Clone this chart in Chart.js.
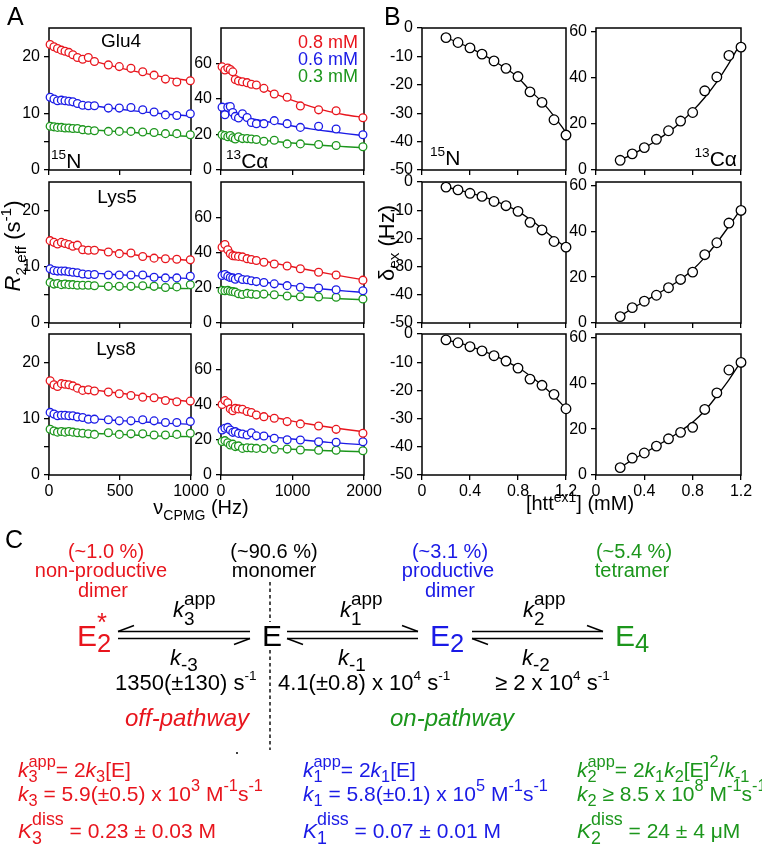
<!DOCTYPE html>
<html>
<head>
<meta charset="utf-8">
<script src="https://cdn.jsdelivr.net/npm/chart.js@4.4.1/dist/chart.umd.min.js"></script>
<style>
html, body { margin: 0; padding: 0; background: #fff; }
#fig { position: relative; width: 762px; height: 847px; overflow: hidden; background: #fff; }
#fig canvas { position: absolute; }
#txt { position: absolute; left: 0; top: 0; z-index: 2; }
</style>
</head>
<body>
<div id="fig"><svg id="txt" width="762" height="847" xmlns="http://www.w3.org/2000/svg"></svg></div>
<script>
// ---- panel A: CPMG frequencies (Hz)
const nuN = [8, 35, 60, 87, 113, 140, 168, 200, 237, 277, 320, 418, 495, 577, 660, 740, 820, 900, 995];
const nuC = [15, 55, 95, 130, 165, 200, 245, 300, 365, 425, 495, 600, 745, 925, 1110, 1365, 1610, 1985];
const fitNuN = [0, 200, 400, 600, 800, 1000];
const fitNuC = [0, 100, 250, 500, 750, 1000, 1250, 1500, 1750, 2000];

// R2,eff 15N (s-1), 0.8 / 0.6 / 0.3 mM
const glu4N_08 = [22.1, 21.7, 21.4, 21.1, 20.9, 20.7, 20.3, 19.8, 19.5, 19.8, 19.1, 18.5, 18.2, 17.9, 17.3, 16.7, 16.0, 15.5, 15.7];
const glu4N_06 = [12.8, 12.5, 12.2, 12.3, 12.2, 12.1, 12.0, 11.7, 11.4, 11.3, 11.3, 10.9, 10.9, 11.0, 10.6, 10.2, 9.7, 9.6, 9.9];
const glu4N_03 = [7.7, 7.6, 7.5, 7.5, 7.4, 7.4, 7.3, 7.3, 7.1, 7.0, 6.9, 6.8, 6.8, 6.8, 6.7, 6.6, 6.4, 6.4, 6.2];
const lys5N_08 = [14.6, 14.3, 14.0, 14.3, 14.1, 13.9, 13.6, 13.8, 13.0, 12.9, 12.9, 12.6, 12.3, 12.4, 11.8, 11.5, 11.4, 11.3, 11.2];
const lys5N_06 = [9.6, 9.3, 9.2, 9.2, 9.2, 9.1, 9.0, 8.9, 8.7, 8.6, 8.6, 8.5, 8.5, 8.5, 8.5, 8.1, 8.0, 8.0, 8.3];
const lys5N_03 = [7.2, 6.9, 7.0, 6.8, 6.9, 6.8, 6.8, 6.7, 6.7, 6.7, 6.6, 6.5, 6.5, 6.5, 6.6, 6.5, 6.3, 6.4, 6.8];
const lys8N_08 = [16.7, 16.0, 15.7, 16.2, 16.1, 16.0, 15.8, 15.4, 15.0, 15.1, 14.9, 14.7, 14.4, 14.1, 13.8, 13.7, 13.2, 13.0, 13.1];
const lys8N_06 = [11.1, 10.8, 10.5, 10.6, 10.6, 10.5, 10.5, 10.3, 10.2, 9.9, 9.9, 9.8, 9.6, 9.6, 9.8, 9.6, 9.3, 9.3, 9.5];
const lys8N_03 = [8.1, 7.8, 7.6, 7.7, 7.6, 7.7, 7.6, 7.5, 7.4, 7.3, 7.2, 7.5, 7.2, 7.3, 7.3, 7.1, 7.1, 7.2, 7.4];
// fitted curves 15N
const glu4N_08fit = [22.0, 20.1, 18.6, 17.4, 16.4, 15.7];
const glu4N_06fit = [12.6, 11.7, 11.0, 10.4, 9.9, 9.5];
const glu4N_03fit = [7.5, 7.2, 6.9, 6.6, 6.2, 5.9];
const lys5N_08fit = [14.5, 13.6, 12.8, 12.1, 11.5, 11.1];
const lys5N_06fit = [9.4, 9.0, 8.7, 8.4, 8.1, 7.9];
const lys5N_03fit = [7.0, 6.7, 6.5, 6.4, 6.2, 6.1];
const lys8N_08fit = [16.3, 15.5, 14.8, 14.2, 13.6, 13.0];
const lys8N_06fit = [10.8, 10.3, 9.8, 9.5, 9.2, 9.0];
const lys8N_03fit = [7.8, 7.5, 7.3, 7.1, 6.9, 6.8];

// R2,eff 13Calpha (s-1)
const glu4C_08 = [58.1, 56.3, 57.5, 56.6, 55.3, 51.0, 50.1, 49.7, 49.2, 48.3, 47.9, 46.0, 42.8, 41.0, 36.1, 33.9, 33.4, 29.4];
const glu4C_06 = [35.4, 31.1, 35.4, 35.8, 32.4, 30.2, 29.3, 31.7, 29.6, 26.8, 26.1, 26.1, 27.8, 26.1, 24.0, 24.6, 23.1, 19.9];
const glu4C_03 = [19.9, 19.4, 18.7, 19.4, 18.1, 17.5, 18.7, 17.7, 17.7, 17.5, 17.2, 16.2, 16.8, 14.7, 14.7, 14.4, 13.8, 13.1];
const lys5C_08 = [43.0, 44.5, 41.6, 39.3, 38.2, 38.0, 37.8, 37.5, 36.5, 36.0, 35.5, 34.5, 33.5, 32.3, 30.8, 28.8, 27.2, 24.3];
const lys5C_06 = [27.0, 27.5, 26.5, 25.8, 25.6, 24.8, 25.8, 24.7, 24.5, 24.0, 23.5, 23.0, 22.2, 21.2, 20.3, 19.9, 18.9, 18.3];
const lys5C_03 = [18.5, 18.3, 18.5, 18.0, 17.8, 17.5, 16.6, 16.2, 16.8, 16.4, 16.2, 16.4, 16.0, 15.3, 14.9, 14.8, 14.6, 13.6];
const lys8C_08 = [40.0, 42.2, 41.0, 37.5, 36.5, 37.8, 37.5, 37.3, 36.0, 35.5, 34.0, 33.1, 32.2, 30.3, 29.0, 27.8, 25.9, 23.7];
const lys8C_06 = [25.5, 26.5, 27.0, 25.5, 24.2, 24.6, 23.6, 23.3, 22.7, 24.0, 22.2, 22.1, 20.8, 20.0, 19.9, 18.9, 18.6, 18.9];
const lys8C_03 = [19.0, 19.5, 18.3, 17.0, 17.5, 16.1, 16.5, 15.1, 15.5, 15.3, 15.1, 15.0, 14.6, 14.7, 14.2, 14.0, 14.0, 13.8];
// fitted curves 13Calpha
const glu4C_08fit = [57.5, 55.0, 51.5, 47.5, 43.0, 39.2, 35.8, 33.0, 31.0, 29.6];
const glu4C_06fit = [34.5, 32.5, 30.5, 28.3, 26.5, 24.8, 23.2, 21.8, 20.5, 19.3];
const glu4C_03fit = [19.5, 19.0, 18.1, 17.0, 16.1, 15.2, 14.4, 13.7, 13.1, 12.5];
const lys5C_08fit = [43.0, 41.0, 38.8, 36.0, 33.9, 31.9, 29.9, 28.0, 26.2, 24.5];
const lys5C_06fit = [27.0, 26.2, 25.0, 23.7, 22.4, 21.2, 20.0, 19.0, 18.1, 17.3];
const lys5C_03fit = [18.5, 18.0, 17.3, 16.5, 15.8, 15.2, 14.6, 14.1, 13.6, 13.2];
const lys8C_08fit = [41.0, 39.3, 37.3, 34.8, 32.6, 30.6, 28.8, 27.2, 25.8, 24.5];
const lys8C_06fit = [26.2, 25.4, 24.2, 22.8, 21.5, 20.4, 19.4, 18.5, 17.8, 17.2];
const lys8C_03fit = [19.0, 18.2, 16.9, 15.8, 15.1, 14.6, 14.2, 13.8, 13.5, 13.2];

// ---- panel B: delta_ex (Hz) vs [htt ex1] (mM)
const conc = [0.2, 0.3, 0.4, 0.5, 0.6, 0.7, 0.8, 0.9, 1.0, 1.1, 1.2];
const glu4dN = [-3.4, -5.1, -7.0, -9.2, -11.6, -14.2, -17.1, -22.5, -26.2, -32.3, -37.7];
const glu4dNfit = [-3.4, -5.1, -7.0, -9.2, -11.6, -14.3, -17.4, -22.0, -26.0, -31.0, -36.8];
const glu4dC = [4.2, 7.0, 9.7, 13.3, 17.0, 21.2, 24.9, 34.3, 40.3, 49.6, 53.2];
const glu4dCfit = [4.3, 6.8, 9.6, 12.8, 16.4, 20.6, 25.6, 31.4, 38.2, 46.2, 55.3];
const lys5dN = [-1.8, -2.8, -4.0, -5.1, -6.9, -8.4, -10.4, -14.3, -17.0, -21.1, -23.1];
const lys5dNfit = [-1.8, -2.8, -3.9, -5.1, -6.6, -8.3, -10.4, -13.2, -16.5, -20.0, -23.2];
const lys5dC = [2.8, 6.7, 9.5, 12.1, 15.4, 19.0, 22.2, 29.8, 35.0, 43.6, 49.1];
const lys5dCfit = [3.0, 6.3, 9.4, 12.4, 15.6, 19.0, 23.2, 28.6, 35.0, 42.2, 49.8];
const lys8dN = [-2.1, -3.1, -4.5, -6.0, -7.7, -9.6, -12.1, -16.0, -18.2, -21.4, -26.5];
const lys8dNfit = [-2.1, -3.1, -4.4, -5.9, -7.6, -9.6, -11.9, -14.8, -18.2, -22.0, -26.5];
const lys8dC = [3.2, 7.4, 9.6, 12.6, 15.8, 18.6, 20.8, 28.6, 35.8, 45.8, 49.1];
const lys8dCfit = [3.2, 6.6, 9.6, 12.6, 15.7, 19.2, 23.0, 28.0, 34.5, 41.5, 49.5];

// tick labels
const ticksR2N = [0, 5, 10, 20];
const ticksR2C = [0, 20, 40, 60];
const ticksNuN = [0, 500, 1000];
const ticksNuC = [0, 1000, 2000];
const ticksDN = [-50, -40, -30, -20, -10, 0];
const ticksDC = [0, 20, 40, 60];
const ticksConc = [0, 0.4, 0.8, 1.2];

const FONT = '"Liberation Sans", Arial, Helvetica, sans-serif';
const RED = '#e8151d', BLUE = '#1a1ae6', GREEN = '#1c961c';
Chart.defaults.font.family = FONT;
Chart.defaults.color = '#000';

const fig = document.getElementById('fig');
const svg = document.getElementById('txt');
const NS = 'http://www.w3.org/2000/svg';

// frame around each plot area
const boxPlugin = {
    id: 'box',
    beforeDatasetsDraw(chart) {
        const a = chart.chartArea, ctx = chart.ctx;
        ctx.save();
        ctx.strokeStyle = '#000';
        ctx.lineWidth = 1.5;
        ctx.strokeRect(a.left, a.top, a.right - a.left, a.bottom - a.top);
        ctx.restore();
    }
};

function xy(xs, ys) { return xs.map((x, i) => ({ x: x, y: ys[i] })); }

function points(xs, ys, color, r) {
    return { data: xy(xs, ys), showLine: false, pointRadius: r, pointBorderWidth: 1.3,
        pointBorderColor: color, pointBackgroundColor: '#fff', clip: false, order: 0 };
}
function curve(xs, ys, color, w) {
    return { data: xy(xs, ys), showLine: true, pointRadius: 0, borderColor: color, borderWidth: w,
        cubicInterpolationMode: 'monotone', order: 1 };
}

function panel(L, T, W, H, o) {
    const padL = 46, padT = 12, padR = 22, padB = o.labels ? 34 : 8;
    const cv = document.createElement('canvas');
    cv.width = W + padL + padR;
    cv.height = H + padT + padB;
    cv.style.left = (L - padL) + 'px';
    cv.style.top = (T - padT) + 'px';
    fig.appendChild(cv);
    const grid = { drawOnChartArea: false, drawTicks: true, tickLength: 5, color: '#000', lineWidth: 1.3 };
    const noPad = s => { s.paddingTop = 0; s.paddingBottom = 0; s.paddingLeft = 0; s.paddingRight = 0; };
    new Chart(cv, {
        type: 'scatter',
        data: { datasets: o.datasets },
        options: {
            responsive: false,
            animation: false,
            events: [],
            layout: { padding: { left: 0, top: padT, right: padR, bottom: 0 } },
            plugins: { legend: { display: false }, tooltip: { enabled: false } },
            scales: {
                x: {
                    type: 'linear', min: o.xr[0], max: o.xr[1],
                    afterBuildTicks: s => { s.ticks = o.xt.map(v => ({ value: v })); },
                    afterFit: s => { s.height = padB; noPad(s); },
                    grid: grid, border: { display: false },
                    ticks: { display: o.labels, padding: 2, font: { size: 16 }, color: '#000',
                        maxRotation: 0, autoSkip: false, callback: o.xf }
                },
                y: {
                    type: 'linear', min: o.yr[0], max: o.yr[1],
                    afterBuildTicks: s => { s.ticks = o.yt.map(v => ({ value: v })); },
                    afterFit: s => { s.width = padL; noPad(s); },
                    grid: grid, border: { display: false },
                    ticks: { padding: 4, font: { size: 16 }, color: '#000', autoSkip: false, callback: o.yf }
                }
            }
        },
        plugins: [boxPlugin]
    });
}

const rowTop = [28, 182, 334], rowH = [142, 141, 141];
const fmtInt = v => String(v);
const fmtR2N = v => (v === 5 ? '' : String(v));
const fmtConc = v => (v === 0 ? '0' : v.toFixed(1));

const seriesN = [
    [glu4N_08, glu4N_06, glu4N_03, glu4N_08fit, glu4N_06fit, glu4N_03fit],
    [lys5N_08, lys5N_06, lys5N_03, lys5N_08fit, lys5N_06fit, lys5N_03fit],
    [lys8N_08, lys8N_06, lys8N_03, lys8N_08fit, lys8N_06fit, lys8N_03fit]
];
const seriesC = [
    [glu4C_08, glu4C_06, glu4C_03, glu4C_08fit, glu4C_06fit, glu4C_03fit],
    [lys5C_08, lys5C_06, lys5C_03, lys5C_08fit, lys5C_06fit, lys5C_03fit],
    [lys8C_08, lys8C_06, lys8C_03, lys8C_08fit, lys8C_06fit, lys8C_03fit]
];
const seriesB = [
    [glu4dN, glu4dNfit, glu4dC, glu4dCfit],
    [lys5dN, lys5dNfit, lys5dC, lys5dCfit],
    [lys8dN, lys8dNfit, lys8dC, lys8dCfit]
];
const cols = [RED, BLUE, GREEN];

for (let r = 0; r < 3; r++) {
    const T = rowTop[r], H = rowH[r], last = r === 2;
    const sN = seriesN[r], sC = seriesC[r], sB = seriesB[r];
    panel(49, T, 142, H, {
        xr: [0, 1000], yr: [0, 25], xt: ticksNuN, yt: ticksR2N, xf: fmtInt, yf: fmtR2N, labels: last,
        datasets: [0, 1, 2].map(i => points(nuN, sN[i], cols[i], 3.9))
            .concat([0, 1, 2].map(i => curve(fitNuN, sN[i + 3], cols[i], 1.4)))
    });
    panel(221, T, 143, H, {
        xr: [0, 2000], yr: [0, 80], xt: ticksNuC, yt: ticksR2C, xf: fmtInt, yf: fmtInt, labels: last,
        datasets: [0, 1, 2].map(i => points(nuC, sC[i], cols[i], 3.9))
            .concat([0, 1, 2].map(i => curve(fitNuC, sC[i + 3], cols[i], 1.4)))
    });
    panel(422, T, 144, H, {
        xr: [0, 1.2], yr: [-50, 0], xt: ticksConc, yt: ticksDN, xf: fmtConc, yf: fmtInt, labels: last,
        datasets: [points(conc, sB[0], '#000', 4.8), curve(conc, sB[1], '#000', 1.3)]
    });
    panel(596, T, 145, H, {
        xr: [0, 1.2], yr: [0, 61.5], xt: ticksConc, yt: ticksDC, xf: fmtConc, yf: fmtInt, labels: last,
        datasets: [points(conc, sB[2], '#000', 4.8), curve(conc, sB[3], '#000', 1.3)]
    });
}

// ---- text with sub/superscripts, drawn as SVG text
const mctx = document.createElement('canvas').getContext('2d');
function tw(t, size, it) {
    mctx.font = (it ? 'italic ' : '') + size + 'px ' + FONT;
    return mctx.measureText(t).width;
}
// markup: ^{sup} _{sub} ~{sup|sub} /{italic}
function parse(s) {
    const runs = [];
    let i = 0;
    const isTok = j => '^_~/'.includes(s[j]) && s[j + 1] === '{';
    while (i < s.length) {
        if (isTok(i)) {
            const j = s.indexOf('}', i);
            runs.push({ k: s[i], t: s.slice(i + 2, j) });
            i = j + 1;
        } else {
            let j = i + 1;
            while (j < s.length && !isTok(j)) j++;
            runs.push({ k: 'n', t: s.slice(i, j) });
            i = j;
        }
    }
    return runs;
}
function rich(s, x, y, size, color, o = {}) {
    const sr = o.sr || 0.7, up = o.up || 0.42, dn = o.dn || 0.25, ss = size * sr;
    const parts = [];
    let cx = 0;
    for (const r of parse(s)) {
        if (r.k === 'n' || r.k === '/') {
            const it = r.k === '/' || !!o.it;
            parts.push({ t: r.t, x: cx, dy: 0, fs: size, it: it });
            cx += tw(r.t, size, it);
        } else if (r.k === '^') {
            parts.push({ t: r.t, x: cx, dy: -up * size, fs: ss });
            cx += tw(r.t, ss);
        } else if (r.k === '_') {
            parts.push({ t: r.t, x: cx, dy: dn * size, fs: ss });
            cx += tw(r.t, ss);
        } else {
            const [u, d] = r.t.split('|');
            parts.push({ t: u, x: cx, dy: -up * size, fs: ss }, { t: d, x: cx, dy: dn * size, fs: ss });
            cx += Math.max(tw(u, ss), tw(d, ss));
        }
    }
    const off = o.anchor === 'middle' ? -cx / 2 : (o.anchor === 'end' ? -cx : 0);
    const te = document.createElementNS(NS, 'text');
    te.setAttribute('fill', color);
    te.setAttribute('font-family', FONT);
    te.setAttribute('style', 'white-space:pre');
    if (o.rot) te.setAttribute('transform', 'rotate(-90 ' + o.rot[0] + ' ' + o.rot[1] + ')');
    for (const p of parts) {
        const ts = document.createElementNS(NS, 'tspan');
        ts.setAttribute('x', (x + off + p.x).toFixed(2));
        ts.setAttribute('y', (y + p.dy).toFixed(2));
        ts.setAttribute('font-size', p.fs);
        if (p.it) ts.setAttribute('font-style', 'italic');
        ts.textContent = p.t;
        te.appendChild(ts);
    }
    svg.appendChild(te);
}
function line(x1, y1, x2, y2, w, dash) {
    const l = document.createElementNS(NS, 'line');
    l.setAttribute('x1', x1); l.setAttribute('y1', y1);
    l.setAttribute('x2', x2); l.setAttribute('y2', y2);
    l.setAttribute('stroke', '#000'); l.setAttribute('stroke-width', w);
    if (dash) l.setAttribute('stroke-dasharray', dash);
    svg.appendChild(l);
}

// panel letters
rich('A', 7, 25, 25, '#000');
rich('B', 384, 25, 25, '#000');
rich('C', 5, 548, 25, '#000');

// panel A / B annotations
rich('Glu4', 121, 46.5, 19, '#000', { anchor: 'middle' });
rich('Lys5', 117, 203, 19, '#000', { anchor: 'middle' });
rich('Lys8', 116, 355, 19, '#000', { anchor: 'middle' });
rich('^{15}N', 51, 168, 21, '#000', { sr: 0.65 });
rich('^{13}Cα', 226, 168, 21, '#000', { sr: 0.65 });
rich('^{15}N', 430, 165, 21, '#000', { sr: 0.65 });
rich('^{13}Cα', 737, 166, 21, '#000', { sr: 0.65, anchor: 'end' });
rich('0.8 mM', 358, 48, 18, RED, { anchor: 'end' });
rich('0.6 mM', 358, 65, 18, BLUE, { anchor: 'end' });
rich('0.3 mM', 358, 81.5, 18, GREEN, { anchor: 'end' });

// axis titles
rich('ν_{CPMG} (Hz)', 201, 514, 20, '#000', { anchor: 'middle', dn: 0.3 });
rich('[htt^{ex1}] (mM)', 580, 510, 20, '#000', { anchor: 'middle' });
rich('/{R}_{2,eff} (s^{-1})', 12.5, 246 + 7.7, 22, '#000', { anchor: 'middle', rot: [12.5, 246] });
rich('δ_{ex} (Hz)', 386, 243 + 7.7, 22, '#000', { anchor: 'middle', rot: [386, 243] });

// ---- panel C: scheme
rich('(~1.0 %)', 106, 558, 20, RED, { anchor: 'middle' });
rich('non-productive', 101, 577, 20, RED, { anchor: 'middle' });
rich('dimer', 103, 596.5, 20, RED, { anchor: 'middle' });
rich('(~90.6 %)', 274, 558, 20, '#000', { anchor: 'middle' });
rich('monomer', 274, 577, 20, '#000', { anchor: 'middle' });
rich('(~3.1 %)', 450, 558, 20, BLUE, { anchor: 'middle' });
rich('productive', 448, 577, 20, BLUE, { anchor: 'middle' });
rich('dimer', 450, 596.5, 20, BLUE, { anchor: 'middle' });
rich('(~5.4 %)', 634, 558, 20, GREEN, { anchor: 'middle' });
rich('tetramer', 632, 577, 20, GREEN, { anchor: 'middle' });

const sp = { sr: 0.85, up: 0.5, dn: 0.2 };
rich('E~{*|2}', 77, 646, 30, RED, sp);
rich('E', 262, 646, 30, '#000');
rich('E_{2}', 430, 646, 30, BLUE, sp);
rich('E_{4}', 615, 646, 30, GREEN, sp);

const kk = { sr: 0.86, up: 0.55, dn: 0.36 };
const km = { sr: 0.86, dn: 0.25 };
rich('/{k}~{app|3}', 173, 617, 22, '#000', kk);
rich('/{k}_{-3}', 170, 665, 22, '#000', km);
rich('/{k}~{app|1}', 340, 617, 22, '#000', kk);
rich('/{k}_{-1}', 338, 665, 22, '#000', km);
rich('/{k}~{app|2}', 523, 617, 22, '#000', kk);
rich('/{k}_{-2}', 522, 665, 22, '#000', km);

const rt = { sr: 0.62, up: 0.45 };
rich('1350(±130) s^{-1}', 115, 690, 22, '#000', rt);
rich('4.1(±0.8) x 10^{4} s^{-1}', 278, 690, 22, '#000', rt);
rich('≥ 2 x 10^{4} s^{-1}', 495, 690, 22, '#000', rt);

rich('off-pathway', 125, 726, 24, RED, { it: true });
rich('on-pathway', 390, 726, 24, GREEN, { it: true });

// equilibrium arrows (harpoons)
line(118, 631.5, 250, 631.5, 1.6); line(118, 631.5, 134, 625.5, 1.6);
line(118, 638.5, 250, 638.5, 1.6); line(250, 638.5, 234, 644.5, 1.6);
line(287, 631.5, 418, 631.5, 1.6); line(418, 631.5, 402, 625.5, 1.6);
line(287, 638.5, 418, 638.5, 1.6); line(287, 638.5, 303, 644.5, 1.6);
line(472, 631.5, 603, 631.5, 1.6); line(603, 631.5, 587, 625.5, 1.6);
line(472, 638.5, 603, 638.5, 1.6); line(472, 638.5, 488, 644.5, 1.6);

// dashed divider
line(270, 582, 270, 622, 1.4, '3.5 3');
line(270, 650, 270, 750, 1.4, '3.5 3');
const dot = document.createElementNS(NS, 'circle');
dot.setAttribute('cx', 237); dot.setAttribute('cy', 753); dot.setAttribute('r', 1); dot.setAttribute('fill', '#000');
svg.appendChild(dot);

// rate equations
const eq = { sr: 0.78, up: 0.5, dn: 0.25 };
const eqK = { sr: 0.85, up: 0.62, dn: 0.3 };
rich('/{k}~{app|3}= 2/{k}_{3}[E]', 18, 777, 21, RED, eq);
rich('/{k}_{3} = 5.9(±0.5) x 10^{3} M^{-1}s^{-1}', 18, 801, 21, RED, eq);
rich('/{K}~{diss|3} = 0.23 ± 0.03 M', 18, 838, 21, RED, eqK);
rich('/{k}~{app|1}= 2/{k}_{1}[E]', 303, 777, 21, BLUE, eq);
rich('/{k}_{1} = 5.8(±0.1) x 10^{5} M^{-1}s^{-1}', 303, 801, 21, BLUE, eq);
rich('/{K}~{diss|1} = 0.07 ± 0.01 M', 303, 838, 21, BLUE, eqK);
rich('/{k}~{app|2}= 2/{k}_{1}/{k}_{2}[E]^{2}//{k}_{-1}', 577, 777, 21, GREEN, eq);
rich('/{k}_{2} ≥ 8.5 x 10^{8} M^{-1}s^{-1}', 577, 801, 21, GREEN, eq);
rich('/{K}~{diss|2} = 24 ± 4 μM', 577, 838, 21, GREEN, eqK);
</script>
</body>
</html>
